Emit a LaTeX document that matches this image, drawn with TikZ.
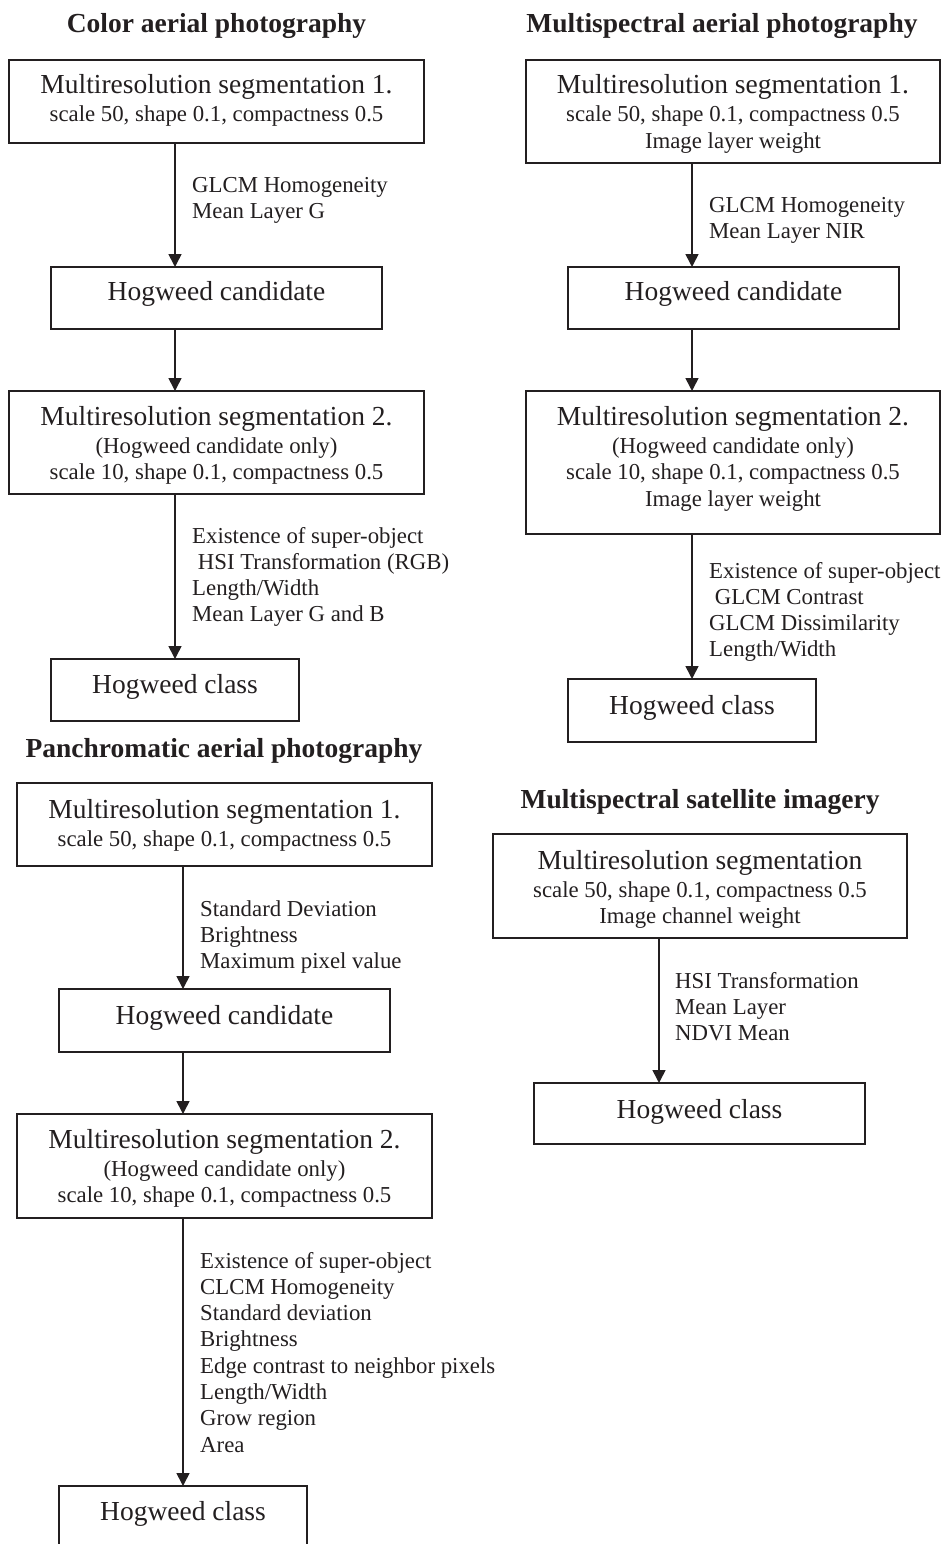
\documentclass[tikz,border=0pt]{standalone}
\usepackage{fontspec}
\setmainfont{Liberation Serif}
\usetikzlibrary{arrows.meta}
\definecolor{ink}{RGB}{35,31,32}
\newcommand{\mainf}{\fontsize{27.5}{30}\selectfont}
\newcommand{\smallf}{\fontsize{22.8}{26.5}\selectfont}
\newcommand{\lblf}{\fontsize{22.8}{26.3}\selectfont}
\newcommand{\ttlf}{\bfseries\fontsize{27.5}{30}\selectfont}
\newcommand{\cbox}[1]{\begin{tabular}[t]{@{}c@{}}#1\end{tabular}}
\newcommand{\lbox}[1]{\begin{tabular}[t]{@{}l@{}}#1\end{tabular}}
\begin{document}
\begin{tikzpicture}[x=1pt,y=-1pt,
  box/.style={draw=ink, line width=1.6pt, inner sep=0pt, outer sep=0pt, anchor=north, text=ink, font=\smallf},
  arr/.style={draw=ink, line width=1.6pt, -{Triangle[length=13pt,width=13pt]}},
  lbl/.style={inner sep=0pt, anchor=base west, text=ink, font=\lblf},
  ttl/.style={inner sep=0pt, anchor=base, text=ink, font=\ttlf}]
\useasboundingbox (0,0) rectangle (946,1544);

% ---------------- Color aerial photography ----------------
\node[ttl] (tA) at (216.5,33) {Color aerial photography};
\node[box, minimum width=415pt, minimum height=83pt, text height=34pt, text depth=49pt] (A1) at (216.5,60)
  {\cbox{{\mainf Multiresolution segmentation 1.}\\[1.5pt] scale 50, shape 0.1, compactness 0.5}};
\node[box, minimum width=331pt, minimum height=62pt, text height=33pt, text depth=29pt] (A2) at (216.5,267)
  {\mainf Hogweed candidate};
\node[box, minimum width=415pt, minimum height=103pt, text height=34pt, text depth=69pt] (A3) at (216.5,391)
  {\cbox{{\mainf Multiresolution segmentation 2.}\\[1.5pt] (Hogweed candidate only)\\ scale 10, shape 0.1, compactness 0.5}};
\node[box, minimum width=248pt, minimum height=62pt, text height=34pt, text depth=28pt] (A4) at (175,659)
  {\mainf Hogweed class};
\coordinate (xA) at (175,0);
\draw[arr] (A1.south -| xA) -- (A2.north -| xA);
\draw[arr] (A2.south -| xA) -- (A3.north -| xA);
\draw[arr] (A3.south -| xA) -- (A4.north -| xA);
\node[lbl] (LA1) at (192,192) {\lbox{GLCM Homogeneity\\ Mean Layer G}};
\node[lbl] (LA2) at (192,543) {\lbox{Existence of super-object\\ \ HSI Transformation (RGB)\\ Length/Width\\ Mean Layer G and B}};

% ---------------- Multispectral aerial photography ----------------
\node[ttl] (tB) at (722,33) {Multispectral aerial photography};
\node[box, minimum width=414pt, minimum height=103pt, text height=34pt, text depth=69pt] (B1) at (733,60)
  {\cbox{{\mainf Multiresolution segmentation 1.}\\[1.5pt] scale 50, shape 0.1, compactness 0.5\\ Image layer weight}};
\node[box, minimum width=331pt, minimum height=62pt, text height=33pt, text depth=29pt] (B2) at (733.5,267)
  {\mainf Hogweed candidate};
\node[box, minimum width=414pt, minimum height=143pt, text height=34pt, text depth=109pt] (B3) at (733,391)
  {\cbox{{\mainf Multiresolution segmentation 2.}\\[1.5pt] (Hogweed candidate only)\\ scale 10, shape 0.1, compactness 0.5\\ Image layer weight}};
\node[box, minimum width=248pt, minimum height=63pt, text height=35pt, text depth=28pt] (B4) at (692,679)
  {\mainf Hogweed class};
\coordinate (xB) at (692,0);
\draw[arr] (B1.south -| xB) -- (B2.north -| xB);
\draw[arr] (B2.south -| xB) -- (B3.north -| xB);
\draw[arr] (B3.south -| xB) -- (B4.north -| xB);
\node[lbl] (LB1) at (709,212) {\lbox{GLCM Homogeneity\\ Mean Layer NIR}};
\node[lbl] (LB2) at (709,578) {\lbox{Existence of super-object\\ \ GLCM Contrast\\ GLCM Dissimilarity\\ Length/Width}};

% ---------------- Panchromatic aerial photography ----------------
\node[ttl] (tC) at (224,757) {Panchromatic aerial photography};
\node[box, minimum width=415pt, minimum height=83pt, text height=35pt, text depth=48pt] (C1) at (224.5,783)
  {\cbox{{\mainf Multiresolution segmentation 1.}\\[1.5pt] scale 50, shape 0.1, compactness 0.5}};
\node[box, minimum width=331pt, minimum height=63pt, text height=35pt, text depth=28pt] (C2) at (224.5,989)
  {\mainf Hogweed candidate};
\node[box, minimum width=415pt, minimum height=104pt, text height=34pt, text depth=70pt] (C3) at (224.5,1114)
  {\cbox{{\mainf Multiresolution segmentation 2.}\\[1.5pt] (Hogweed candidate only)\\ scale 10, shape 0.1, compactness 0.5}};
\node[box, minimum width=248pt, minimum height=62pt, text height=34pt, text depth=28pt] (C4) at (183,1486)
  {\mainf Hogweed class};
\coordinate (xC) at (183,0);
\draw[arr] (C1.south -| xC) -- (C2.north -| xC);
\draw[arr] (C2.south -| xC) -- (C3.north -| xC);
\draw[arr] (C3.south -| xC) -- (C4.north -| xC);
\node[lbl] (LC1) at (200,916) {\lbox{Standard Deviation\\ Brightness\\ Maximum pixel value}};
\node[lbl] (LC2) at (200,1268) {\lbox{Existence of super-object\\ CLCM Homogeneity\\ Standard deviation\\ Brightness\\ Edge contrast to neighbor pixels\\ Length/Width\\ Grow region\\ Area}};

% ---------------- Multispectral satellite imagery ----------------
\node[ttl] (tD) at (700,808) {Multispectral satellite imagery};
\node[box, minimum width=414pt, minimum height=104pt, text height=35pt, text depth=69pt] (D1) at (700,834)
  {\cbox{{\mainf Multiresolution segmentation}\\[1.5pt] scale 50, shape 0.1, compactness 0.5\\ Image channel weight}};
\node[box, minimum width=331pt, minimum height=61pt, text height=35pt, text depth=26pt] (D2) at (699.5,1083)
  {\mainf Hogweed class};
\coordinate (xD) at (659,0);
\draw[arr] (D1.south -| xD) -- (D2.north -| xD);
\node[lbl] (LD1) at (675,988) {\lbox{HSI Transformation\\ Mean Layer\\ NDVI Mean}};
\end{tikzpicture}
\end{document}
